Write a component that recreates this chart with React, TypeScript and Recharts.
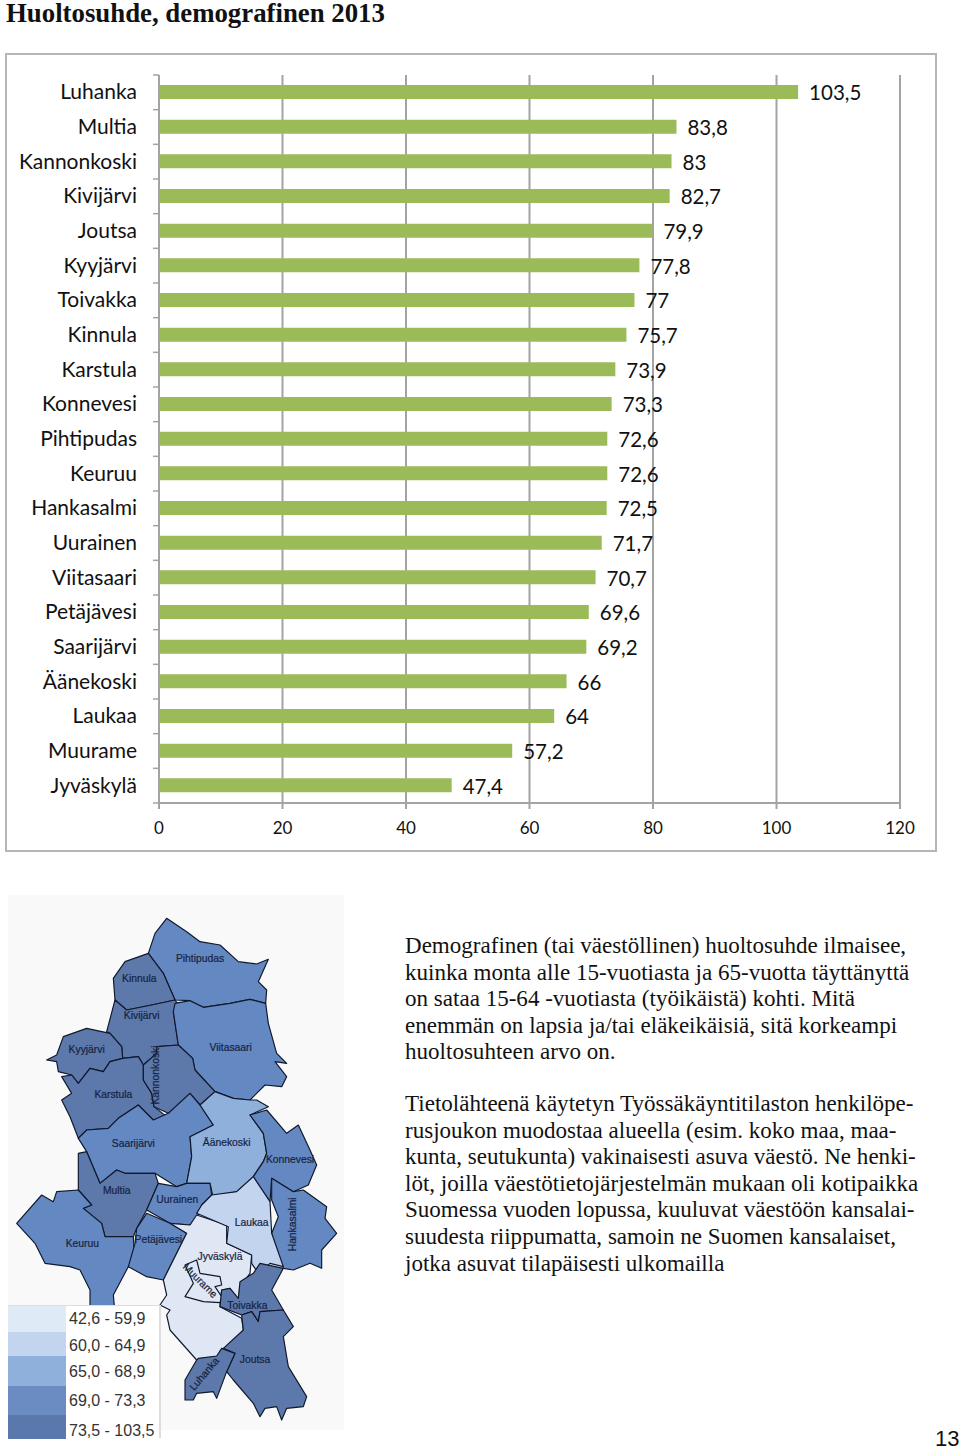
import React from "react";
import { Bar, BarChart, CartesianGrid, LabelList, XAxis, YAxis } from "recharts";

const municipalities = [
  "Luhanka", "Multia", "Kannonkoski", "Kivijärvi", "Joutsa", "Kyyjärvi", "Toivakka",
  "Kinnula", "Karstula", "Konnevesi", "Pihtipudas", "Keuruu", "Hankasalmi", "Uurainen",
  "Viitasaari", "Petäjävesi", "Saarijärvi", "Äänekoski", "Laukaa", "Muurame", "Jyväskylä",
];
const ratios = [
  103.5, 83.8, 83, 82.7, 79.9, 77.8, 77, 75.7, 73.9, 73.3, 72.6, 72.6, 72.5, 71.7, 70.7,
  69.6, 69.2, 66, 64, 57.2, 47.4,
];
const xTicks = [0, 20, 40, 60, 80, 100, 120];

const legendLabels = ["42,6 - 59,9", "60,0 - 64,9", "65,0 - 68,9", "69,0 - 73,3", "73,5 - 103,5"];
const legendColors = ["#dfeaf7", "#c3d5ee", "#8fb0da", "#6a8cc2", "#5a78ac"];
const legendUpper = [59.95, 64.95, 68.95, 73.4, 200];
const mapColors = ["#dfe6f4", "#c3d5ee", "#8fb0da", "#6488c2", "#5d78ab"];

const introLines = [
  "Demografinen (tai väestöllinen) huoltosuhde ilmaisee,",
  "kuinka monta alle 15-vuotiasta ja 65-vuotta täyttänyttä",
  "on sataa 15-64 -vuotiasta (työikäistä) kohti. Mitä",
  "enemmän on lapsia ja/tai eläkeikäisiä, sitä korkeampi",
  "huoltosuhteen arvo on.",
];
const sourceLines = [
  "Tietolähteenä käytetyn Työssäkäyntitilaston henkilöpe-",
  "rusjoukon muodostaa alueella (esim. koko maa, maa-",
  "kunta, seutukunta) vakinaisesti asuva väestö. Ne henki-",
  "löt, joilla väestötietojärjestelmän mukaan oli kotipaikka",
  "Suomessa vuoden lopussa, kuuluvat väestöön kansalai-",
  "suudesta riippumatta, samoin ne Suomen kansalaiset,",
  "jotka asuvat tilapäisesti ulkomailla",
];

// map outlines, traced at 3x from the page picture
const regions: Array<{ name: string; pts: string; lx: number; ly: number; rot?: number }> = [
  { name: "Pihtipudas", lx: 600, ly: 205, pts: "500,85 560,125 600,155 660,165 715,215 770,222 805,208 775,275 800,300 797,340 750,328 690,340 610,352 570,332 525,330 490,250 445,190 465,130" },
  { name: "Kinnula", lx: 418, ly: 265, pts: "445,190 490,250 525,330 455,345 380,360 345,330 340,265 375,215" },
  { name: "Kivijärvi", lx: 425, ly: 378, pts: "345,330 380,360 455,345 525,330 540,350 520,365 535,465 475,470 470,490 430,525 415,500 368,505 365,470 330,430 320,425" },
  { name: "Viitasaari", lx: 692, ly: 473, pts: "525,340 570,332 610,352 690,340 750,328 797,340 805,400 830,490 860,520 825,515 860,560 845,590 795,585 750,630 700,625 645,605 585,540 578,505 535,465 520,365" },
  { name: "Kyyjärvi", lx: 260, ly: 480, pts: "260,415 330,430 365,470 368,505 330,515 310,545 270,535 235,580 215,555 175,545 170,515 140,510 170,495 190,440" },
  { name: "Karstula", lx: 340, ly: 613, pts: "368,505 415,500 430,525 430,570 455,610 462,650 500,680 460,690 415,645 355,685 325,715 260,720 235,745 210,680 185,630 215,610 185,560 215,555 235,580 270,535 310,545 330,515" },
  { name: "Kannonkoski", lx: 468, ly: 555, rot: -90, pts: "470,470 535,465 578,505 585,540 645,605 600,645 570,610 505,670 462,650 455,610 430,570 430,525 470,490" },
  { name: "Saarijärvi", lx: 400, ly: 760, pts: "570,610 600,645 640,705 570,740 575,800 560,880 530,890 465,850 375,850 350,840 300,880 260,785 235,745 260,720 325,715 355,685 415,645 460,690 505,670" },
  { name: "Äänekoski", lx: 680, ly: 757, pts: "645,605 700,625 750,630 770,630 805,650 750,675 790,730 800,790 790,815 760,860 710,905 640,925 630,880 560,880 575,800 570,740 640,705 600,645" },
  { name: "Konnevesi", lx: 870, ly: 808, pts: "750,675 800,660 860,730 895,705 930,780 950,825 925,885 880,905 815,865 810,935 770,880 760,860 790,815 800,790 790,730" },
  { name: "Hankasalmi", lx: 878, ly: 1003, rot: -90, pts: "815,865 880,905 910,900 980,950 975,985 1010,1030 965,1080 965,1135 930,1120 880,1140 850,1135 815,1030 835,980 815,930" },
  { name: "Multia", lx: 350, ly: 903, pts: "235,790 260,785 300,880 350,840 375,850 465,850 475,880 440,960 410,1015 400,1040 315,1040 305,1000 250,955 275,945 235,900" },
  { name: "Uurainen", lx: 532, ly: 928, pts: "475,880 530,890 560,880 630,880 635,915 605,945 590,985 570,1005 510,1000 440,960" },
  { name: "Keuruu", lx: 247, ly: 1062, pts: "125,915 160,935 170,905 235,900 275,945 250,955 305,1000 315,1040 400,1040 405,1130 385,1130 340,1215 345,1270 270,1270 270,1200 240,1140 210,1130 135,1120 105,1060 50,1000" },
  { name: "Petäjävesi", lx: 475, ly: 1050, pts: "410,1015 440,970 510,1000 560,1030 535,1080 490,1170 440,1160 385,1130 405,1060" },
  { name: "Jyväskylä", lx: 660, ly: 1100, pts: "510,1000 570,1005 590,975 680,1005 680,1060 755,1095 750,1150 720,1190 715,1230 690,1195 665,1200 660,1250 725,1285 730,1320 690,1380 650,1400 590,1410 510,1320 500,1275 510,1260 480,1245 500,1215 490,1170 535,1080 560,1030" },
  { name: "Muurame", lx: 600, ly: 1172, rot: 45, pts: "555,1125 590,1110 600,1150 660,1160 665,1185 645,1190 665,1220 660,1238 610,1235 555,1220 580,1180" },
  { name: "Laukaa", lx: 755, ly: 997, pts: "760,860 810,935 815,1030 850,1130 810,1120 775,1150 755,1120 755,1095 680,1060 685,1010 590,970 605,945 635,915 710,905" },
  { name: "Toivakka", lx: 742, ly: 1247, pts: "760,1150 780,1120 850,1135 815,1200 850,1260 780,1265 775,1295 755,1265 725,1275 660,1250 665,1200 690,1195 715,1225 720,1175" },
  { name: "Joutsa", lx: 765, ly: 1410, pts: "725,1275 755,1265 775,1295 780,1265 850,1260 880,1310 850,1340 865,1430 920,1520 910,1550 860,1555 845,1590 830,1550 795,1555 780,1580 760,1540 700,1470 680,1445 705,1390 670,1375 730,1320" },
  { name: "Luhanka", lx: 613, ly: 1452, rot: -50, pts: "595,1405 650,1398 665,1375 705,1390 680,1445 650,1525 640,1505 590,1510 580,1530 555,1530 555,1470 590,1410" },
];

const FONT_CHART = "Lato, sans-serif";
const FONT_SERIF = "'Liberation Serif', serif";
const AXIS_GRAY = "#a3a3a3";
const PLOT_LEFT = 159;
const PLOT_TOP = 75;
const PLOT_BOTTOM = 803;

const chartData = municipalities.map((name, i) => ({ name, value: ratios[i] }));
const halfBand = (PLOT_BOTTOM - PLOT_TOP) / municipalities.length / 2;

const classColor = (v: number) => mapColors[legendUpper.findIndex((u) => v < u)];

function CategoryTick({ y, payload, index }: any) {
  const isLast = index === municipalities.length - 1;
  return (
    <g>
      <line x1={PLOT_LEFT - 6} x2={PLOT_LEFT} y1={y - halfBand} y2={y - halfBand} stroke={AXIS_GRAY} strokeWidth={1.5} />
      {isLast && <line x1={PLOT_LEFT - 6} x2={PLOT_LEFT} y1={y + halfBand} y2={y + halfBand} stroke={AXIS_GRAY} strokeWidth={1.5} />}
      <text x={137} y={y} dy={7} textAnchor="end" fontFamily={FONT_CHART} fontSize={21} fill="#111">
        {payload.value}
      </text>
    </g>
  );
}

function MapFigure() {
  return (
    <svg width={336} height={535} viewBox="24 15 1008 1605" style={{ position: "absolute", left: 8, top: 895 }}>
      <rect x={24} y={15} width={1008} height={1605} fill="#f9f9f9" />
      {regions.map((r) => (
        <polygon
          key={r.name}
          points={r.pts}
          fill={classColor(ratios[municipalities.indexOf(r.name)])}
          stroke="#10182c"
          strokeWidth={3.5}
          strokeLinejoin="round"
        />
      ))}
      {regions.map((r) => (
        <text
          key={r.name}
          x={r.lx}
          y={r.ly}
          dy={10}
          textAnchor="middle"
          fontFamily="'Liberation Sans', sans-serif"
          fontSize={31}
          fill="#16233f"
          stroke="#16233f"
          strokeWidth={0.6}
          transform={r.rot ? `rotate(${r.rot} ${r.lx} ${r.ly})` : undefined}
        >
          {r.name}
        </text>
      ))}
    </svg>
  );
}

const legendTops = [1305, 1331, 1355, 1385, 1414, 1438];

function MapLegend() {
  return (
    <div style={{ position: "absolute", left: 8, top: 1305, width: 153, height: 133, background: "#fff", borderRight: "2px solid #ddd", borderTop: "1px solid #ddd", boxSizing: "border-box" }}>
      {legendLabels.map((label, i) => (
        <React.Fragment key={label}>
          <div style={{ position: "absolute", left: 0, top: legendTops[i] - 1305, width: 58, height: legendTops[i + 1] - legendTops[i], background: legendColors[i] }} />
          <div style={{ position: "absolute", left: 61, top: [3, 30, 56, 85, 115][i], fontFamily: "'Liberation Sans', sans-serif", fontSize: 16, lineHeight: "20px", color: "#333", whiteSpace: "nowrap" }}>
            {label}
          </div>
        </React.Fragment>
      ))}
    </div>
  );
}

function TextBlock({ lines, top }: { lines: string[]; top: number }) {
  return (
    <div style={{ position: "absolute", left: 405, top, fontFamily: FONT_SERIF, fontSize: 23.05, lineHeight: "26.6px", color: "#111", whiteSpace: "nowrap" }}>
      {lines.map((l) => (
        <div key={l}>{l}</div>
      ))}
    </div>
  );
}

export default function App() {
  return (
    <div style={{ position: "absolute", left: 0, top: 0, width: 960, height: 1450, background: "#fff", overflow: "hidden" }}>
      <div style={{ position: "absolute", left: 6, top: 0, fontFamily: FONT_SERIF, fontWeight: "bold", fontSize: 26.8, lineHeight: "26px", color: "#111", whiteSpace: "nowrap" }}>
        Huoltosuhde, demografinen 2013
      </div>
      <div style={{ position: "absolute", left: 5, top: 53, width: 932, height: 799, border: "2px solid #b5b5b5", boxSizing: "border-box" }} />
      <div style={{ position: "absolute", left: 0, top: 0 }}>
        <BarChart
          width={960}
          height={860}
          layout="vertical"
          data={chartData}
          margin={{ top: PLOT_TOP, right: 60, left: 0, bottom: 0 }}
          barCategoryGap={0}
        >
          <CartesianGrid horizontal={false} stroke={AXIS_GRAY} strokeWidth={2} />
          <XAxis
            type="number"
            domain={[0, 120]}
            ticks={xTicks}
            height={57}
            tickSize={6}
            tickMargin={13}
            stroke={AXIS_GRAY}
            strokeWidth={2}
            tick={{ fontFamily: FONT_CHART, fontSize: 17, fill: "#111" }}
          />
          <YAxis
            type="category"
            dataKey="name"
            width={PLOT_LEFT}
            interval={0}
            tickLine={false}
            stroke={AXIS_GRAY}
            strokeWidth={2}
            tick={<CategoryTick />}
          />
          <Bar dataKey="value" fill="#9bbb59" barSize={14} isAnimationActive={false}>
            <LabelList
              dataKey="value"
              position="right"
              offset={11}
              dy={1}
              formatter={(v: any) => String(v).replace(".", ",")}
              style={{ fontFamily: FONT_CHART, fontSize: 20.5, fill: "#111" }}
            />
          </Bar>
        </BarChart>
      </div>
      <MapFigure />
      <MapLegend />
      <TextBlock lines={introLines} top={932} />
      <TextBlock lines={sourceLines} top={1090} />
      <div style={{ position: "absolute", left: 935, top: 1427, fontFamily: "'Liberation Sans', sans-serif", fontSize: 22, lineHeight: "24px", color: "#111" }}>
        13
      </div>
    </div>
  );
}
